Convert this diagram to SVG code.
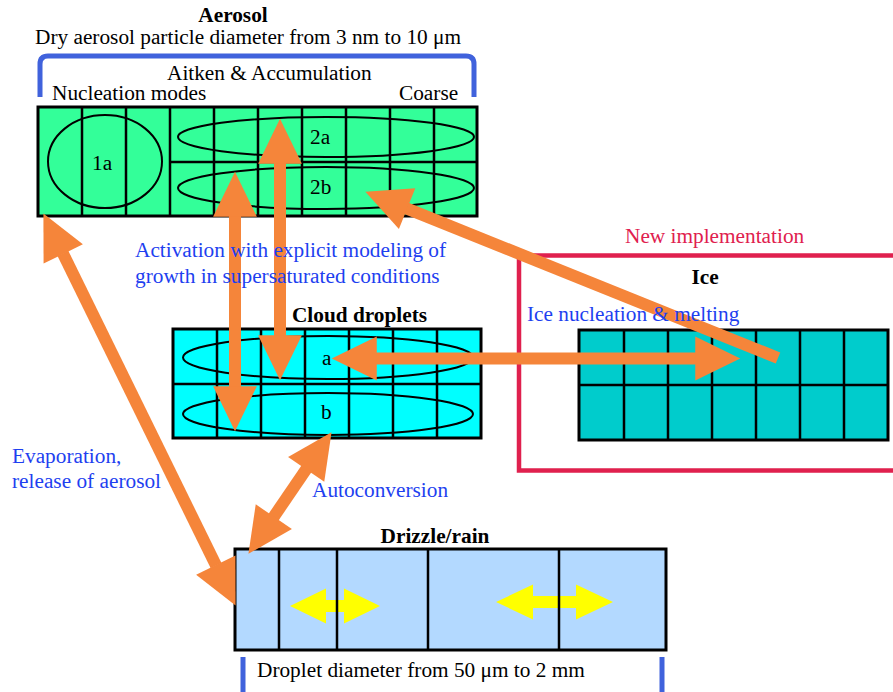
<svg xmlns="http://www.w3.org/2000/svg" width="893" height="692" viewBox="0 0 893 692">
<style>
text{font-family:"Liberation Serif","Times New Roman",serif;font-size:21.3px;fill:#000}
.b{font-weight:bold}
.blue{fill:#1e3ff0}
.red{fill:#e0204e}
.box{stroke:#000;stroke-width:3}
.grid{stroke:#000;stroke-width:2.5;fill:none}
.ell{fill:none;stroke:#000;stroke-width:2}
.arr{stroke:#f5853a;stroke-width:12;fill:none}
.yel{fill:#ffff00}
</style>
<defs>
<marker id="ah" markerUnits="strokeWidth" markerWidth="4" markerHeight="4" viewBox="0 -1.6 3.2 3.2" refX="0.05" refY="0" orient="auto-start-reverse" overflow="visible">
<path d="M0,-1.46 L3,0 L0,1.46 Z" fill="#f5853a"/>
</marker>
</defs>

<g id="aerosol">
<path d="M40 97 V64 Q40 56 48 56 H466 Q474 56 474 64 V97" fill="none" stroke="#4062dc" stroke-width="5"/>
<rect x="38" y="107" width="439" height="109" fill="#33ff99" class="box"/>
<path class="grid" d="M82 107V216M126 107V216M170 107V216M214 107V216M258 107V216M302 107V216M346 107V216M390 107V216M434 107V216M170 162H477"/>
<ellipse class="ell" cx="105" cy="161.5" rx="57" ry="46.5"/>
<ellipse class="ell" cx="326" cy="137" rx="148" ry="20"/>
<ellipse class="ell" cx="326" cy="188" rx="148" ry="21"/>
<text x="233" y="22" class="b" text-anchor="middle">Aerosol</text>
<text x="35" y="44">Dry aerosol particle diameter from 3 nm to 10 μm</text>
<text x="167" y="80">Aitken &amp; Accumulation</text>
<text x="52" y="100">Nucleation modes</text>
<text x="399" y="100">Coarse</text>
<text x="92" y="170">1a</text>
<text x="310" y="144">2a</text>
<text x="310" y="194">2b</text>
</g>

<g id="cloud">
<rect x="173" y="329" width="308" height="109" fill="#00ffff" class="box"/>
<path class="grid" d="M217 329V438M261 329V438M305 329V438M349 329V438M393 329V438M437 329V438M173 384H481"/>
<ellipse class="ell" cx="328" cy="357.5" rx="145" ry="21.5"/>
<ellipse class="ell" cx="328" cy="414" rx="145" ry="21"/>
<text x="359.5" y="322" class="b" text-anchor="middle">Cloud droplets</text>
<text x="322" y="365">a</text>
<text x="321" y="419">b</text>
</g>

<g id="ice">
<path d="M893 255.5 H519 V470.5 H893" fill="none" stroke="#e0204e" stroke-width="4.5"/>
<rect x="579" y="330" width="309" height="110" fill="#00cccc" class="box"/>
<path class="grid" d="M624 330V440M668 330V440M712 330V440M756 330V440M800 330V440M844 330V440M579 385H888"/>
<text x="625" y="243" class="red">New implementation</text>
<text x="705" y="284" class="b" text-anchor="middle">Ice</text>
</g>

<g id="drizzle">
<rect x="235" y="549" width="431" height="101" fill="#b3d9ff" class="box"/>
<polygon class="yel" points="290,606 326,588.5 326,600 344,600 344,588.5 380,606 344,623.5 344,612 326,612 326,623.5"/>
<polygon class="yel" points="496,602 533,584.5 533,596 576,596 576,584.5 613,602 576,619.5 576,608 533,608 533,619.5"/>
<path class="grid" d="M279 549V650M337 549V650M428 549V650M559 549V650"/>
<path d="M243 657 V700 M662 657 V700" fill="none" stroke="#4062dc" stroke-width="5"/>
<text x="435" y="543" class="b" text-anchor="middle">Drizzle/rain</text>
<text x="257" y="677">Droplet diameter from 50 μm to 2 mm</text>
</g>

<g id="connectors">
<line class="arr" x1="280" y1="163" x2="280" y2="336" marker-start="url(#ah)" marker-end="url(#ah)"/>
<line class="arr" x1="235" y1="216" x2="235" y2="387" marker-start="url(#ah)" marker-end="url(#ah)"/>
<line class="arr" x1="778" y1="358" x2="406.4" y2="208.4" marker-end="url(#ah)"/>
<line class="arr" x1="376" y1="358.5" x2="696" y2="358.5" marker-start="url(#ah)" marker-end="url(#ah)"/>
<line class="arr" x1="306.6" y1="468.7" x2="273.4" y2="517.3" marker-start="url(#ah)" marker-end="url(#ah)"/>
<line class="arr" x1="62.9" y1="253.3" x2="216.1" y2="565.7" marker-start="url(#ah)" marker-end="url(#ah)"/>
</g>

<g id="labels">
<text x="135" y="257" class="blue">Activation with explicit modeling of</text>
<text x="135" y="283" class="blue">growth in supersaturated conditions</text>
<text x="527" y="321" class="blue">Ice nucleation &amp; melting</text>
<text x="12" y="463" class="blue">Evaporation,</text>
<text x="12" y="488" class="blue">release of aerosol</text>
<text x="312" y="497" class="blue">Autoconversion</text>
</g>
</svg>
